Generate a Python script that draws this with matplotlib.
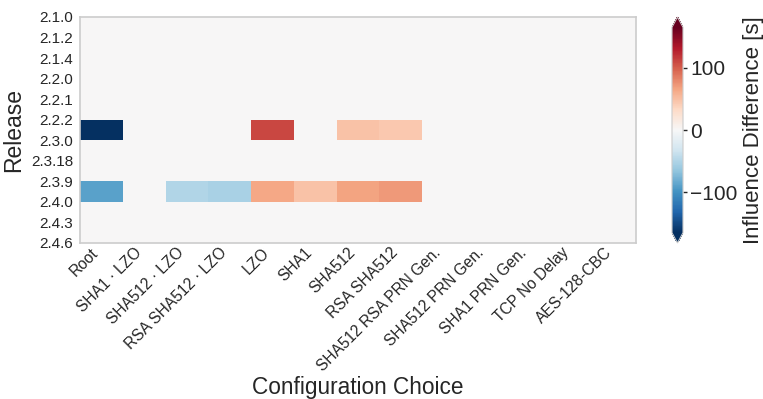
import numpy as np
import matplotlib.pyplot as plt

plt.rcParams['font.family'] = ['Liberation Sans', 'DejaVu Sans']
plt.rcParams['text.color'] = '.15'
plt.rcParams['axes.labelcolor'] = '.15'
plt.rcParams['xtick.color'] = '.15'
plt.rcParams['ytick.color'] = '.15'
plt.rcParams['axes.edgecolor'] = '.8'

releases = ['2.1.0', '2.1.2', '2.1.4', '2.2.0', '2.2.1', '2.2.2',
            '2.3.0', '2.3.18', '2.3.9', '2.4.0', '2.4.3', '2.4.6']
choices = ['Root', 'SHA1 \u00b7 LZO', 'SHA512 \u00b7 LZO', 'RSA SHA512 \u00b7 LZO',
           'LZO', 'SHA1', 'SHA512', 'RSA SHA512', 'SHA512 RSA PRN Gen.',
           'SHA512 PRN Gen.', 'SHA1 PRN Gen.', 'TCP No Delay', 'AES-128-CBC']

# influence change per option between consecutive releases (only two steps change)
diff_222_230 = [-165, 0, 0, 0, 110, 0, 48, 44, 0, 0, 0, 0, 0]
diff_239_240 = [-90, 0, -50, -54, 64, 48, 66, 72, 0, 0, 0, 0, 0]
vlim = 165

# one row per release transition
diff = np.zeros((len(releases) - 1, len(choices)))
diff[releases.index('2.2.2')] = diff_222_230
diff[releases.index('2.3.9')] = diff_239_240

fig = plt.figure(figsize=(7.63, 3.99), dpi=100)
ax = fig.add_axes([80 / 763, 156 / 399, 556 / 763, 226 / 399])
cax = fig.add_axes([672 / 763, 156 / 399, 11 / 763, 226 / 399])

mesh = ax.pcolormesh(np.arange(len(choices) + 1), np.arange(len(releases)), diff,
                     cmap='RdBu_r', vmin=-vlim, vmax=vlim)
ax.set_xlim(0, len(choices))
ax.set_ylim(len(releases) - 1, 0)

ax.set_xticks(np.arange(len(choices)) + 0.5)
ax.set_xticklabels(choices, rotation=45, ha='right', fontsize=11.2)
ax.set_yticks(np.arange(len(releases)))
ax.set_yticklabels(releases, fontsize=11)
ax.tick_params(axis='y', length=0, pad=5)
ax.tick_params(axis='x', length=0, pad=1.5)
for s in ax.spines.values():
    s.set_color('.8')
    s.set_linewidth(1.2)

ax.set_xlabel('Configuration Choice', fontsize=16.3)
ax.xaxis.set_label_coords(0.5, -0.588)
ax.set_ylabel('Release', fontsize=16.5)

cbar = fig.colorbar(mesh, cax=cax, extend='both')
cbar.set_ticks([-100, 0, 100])
cbar.ax.tick_params(labelsize=15, length=3, width=1, color='.15', pad=2)
cbar.outline.set_edgecolor('.8')
cbar.set_label('Influence Difference [s]', fontsize=16)

fig.savefig('out.png', dpi=100)
